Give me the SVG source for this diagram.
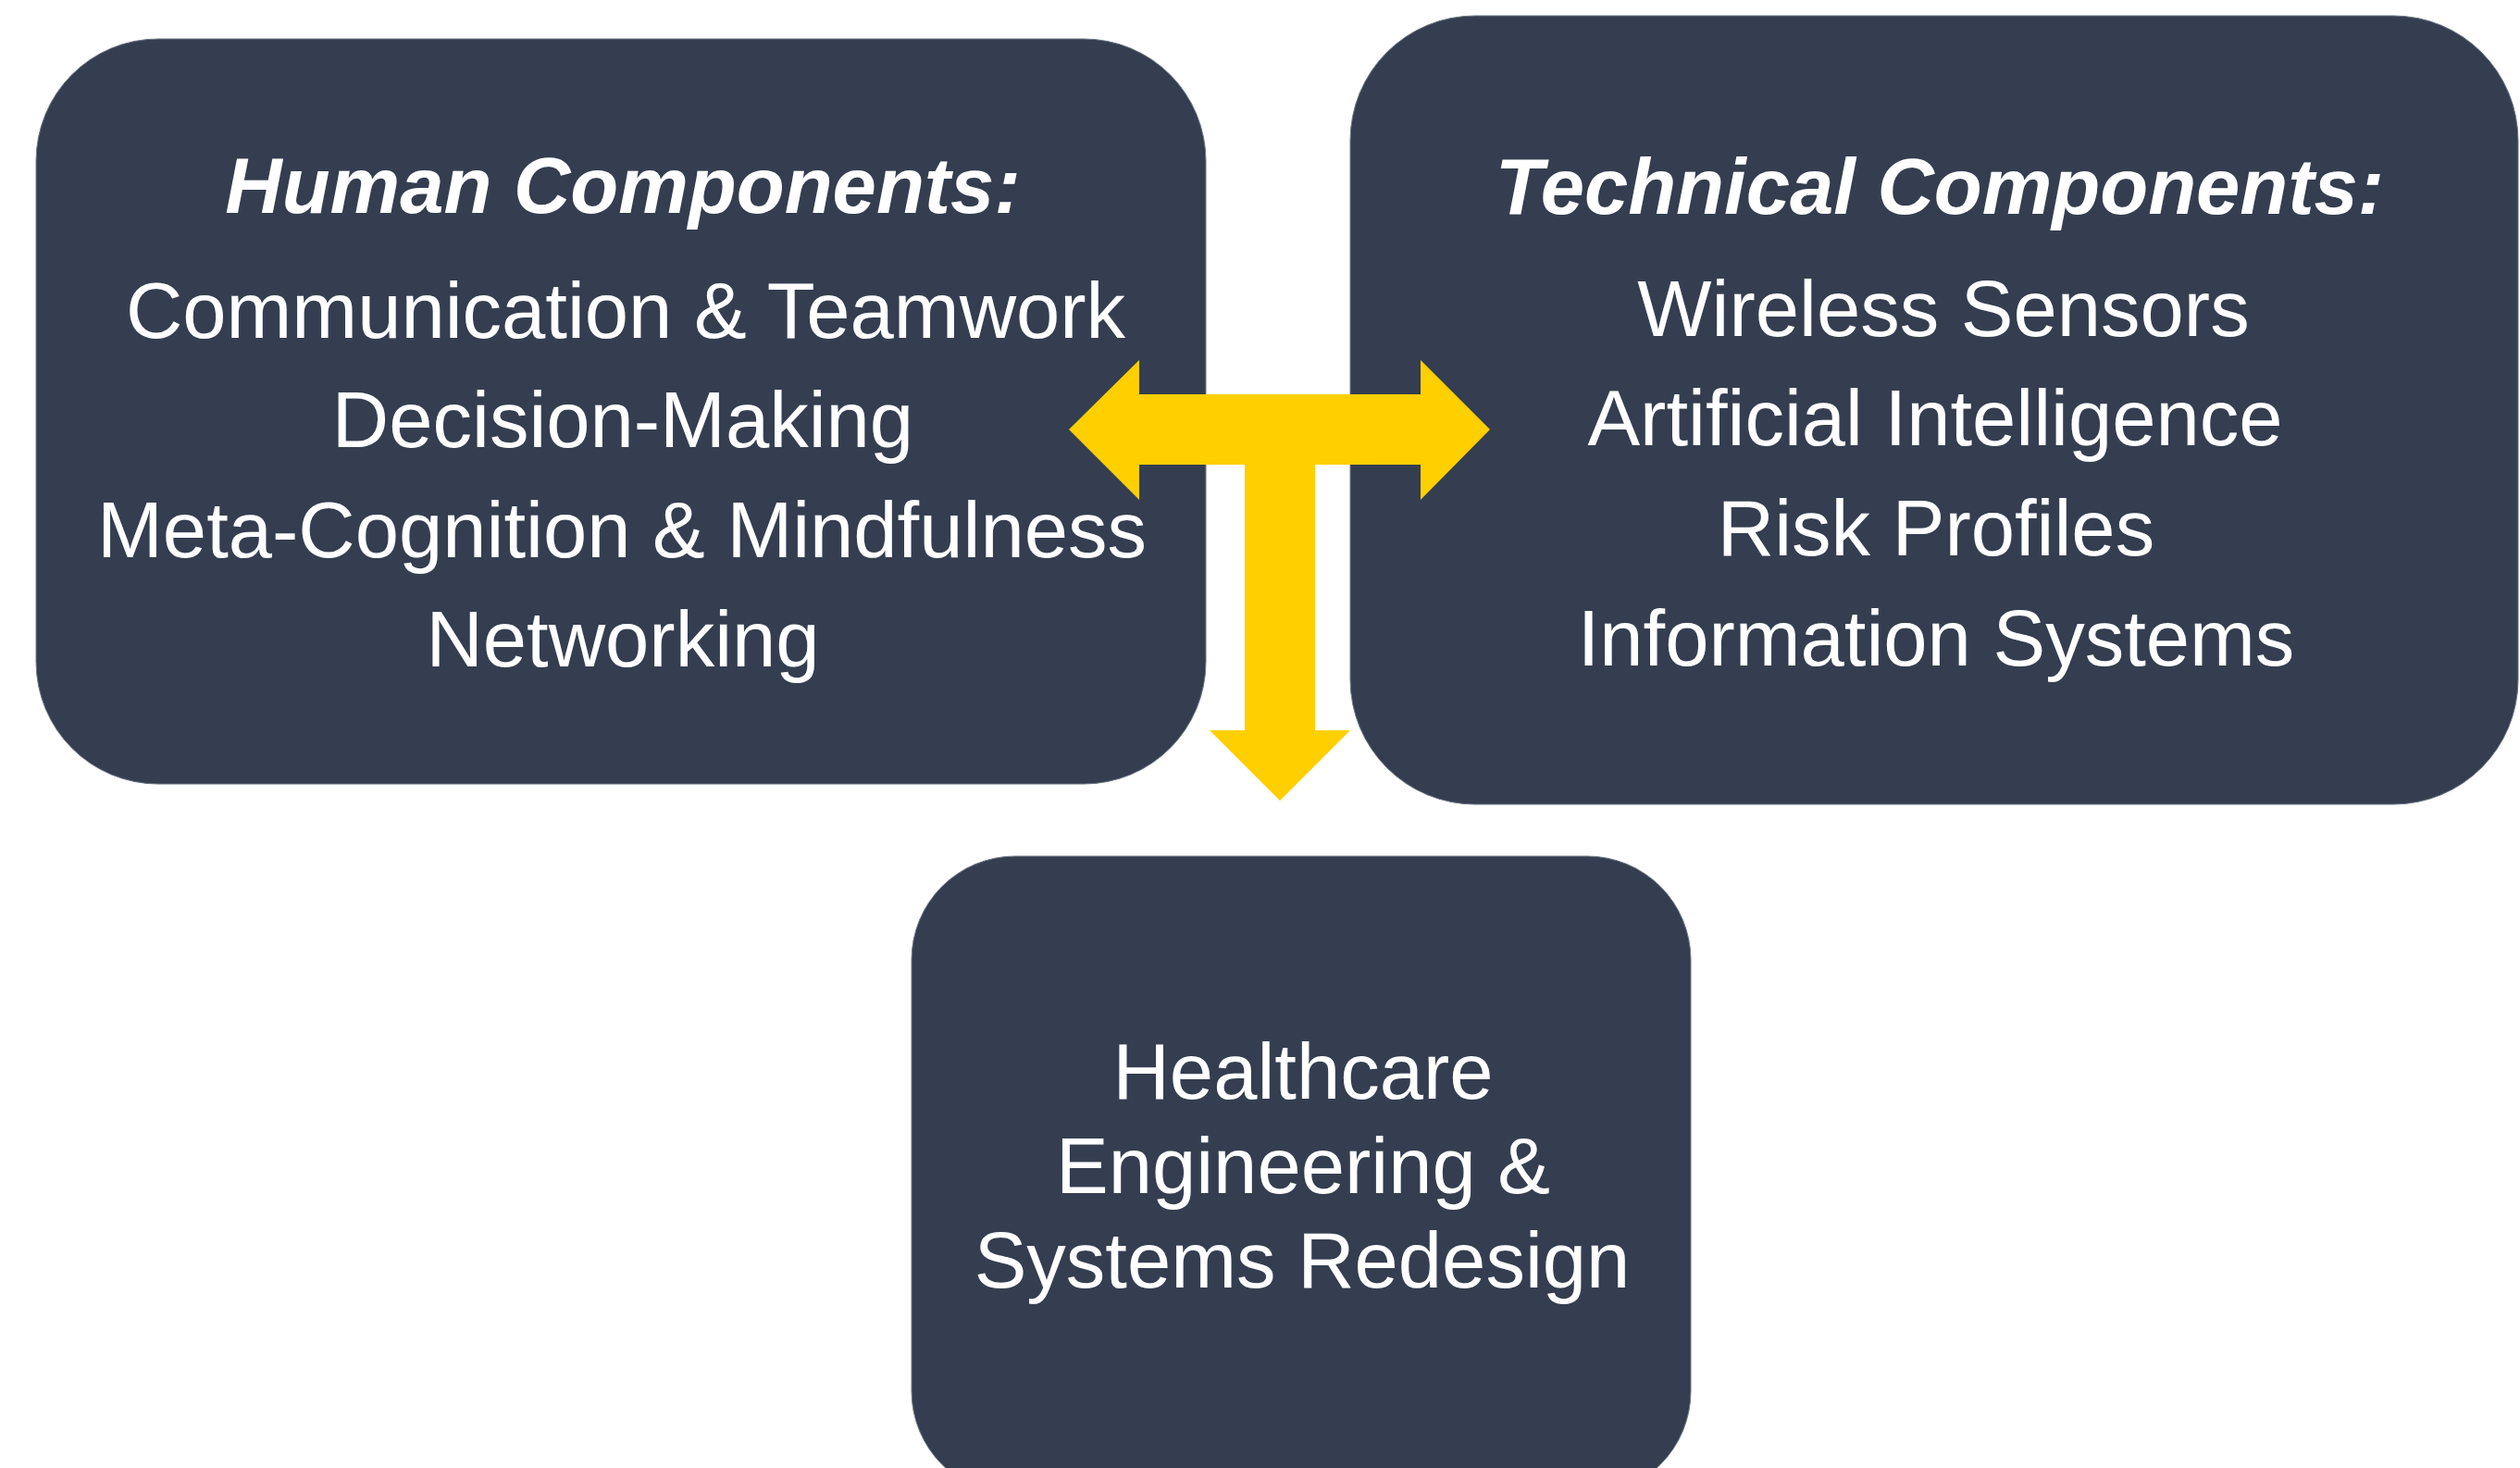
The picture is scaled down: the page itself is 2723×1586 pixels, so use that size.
<svg xmlns="http://www.w3.org/2000/svg" width="2723" height="1586" viewBox="0 0 2723 1586">
  <style>
    .box { fill: #343e50; stroke: #6f7886; stroke-width: 1; }
    .txt { font-family: "Liberation Sans", Arial, sans-serif; font-size: 85px; fill: #ffffff; text-anchor: middle; }
    .head { font-weight: bold; font-style: italic; }
    .arrow { fill: #ffcf00; }
  </style>
  <rect width="2723" height="1586" fill="#ffffff"/>

  <!-- Human side -->
  <g id="human">
    <rect class="box" x="39" y="42" width="1264" height="805" rx="132" ry="132"/>
    <text class="txt head" x="673" y="230">Human Components:</text>
    <text class="txt" x="676" y="365">Communication &amp; Teamwork</text>
    <text class="txt" x="673" y="483">Decision-Making</text>
    <text class="txt" x="672" y="602">Meta-Cognition &amp; Mindfulness</text>
    <text class="txt" x="673" y="720">Networking</text>
  </g>

  <!-- Technical side -->
  <g id="technical">
    <rect class="box" x="1459" y="17" width="1262" height="852" rx="135" ry="135"/>
    <text class="txt head" x="2096" y="231">Technical Components:</text>
    <text class="txt" x="2100" y="363">Wireless Sensors</text>
    <text class="txt" x="2091" y="481">Artificial Intelligence</text>
    <text class="txt" x="2092" y="600">Risk Profiles</text>
    <text class="txt" x="2092" y="719">Information Systems</text>
  </g>

  <!-- Combined outcome -->
  <g id="outcome">
    <rect class="box" x="985" y="925" width="842" height="690" rx="112" ry="112"/>
    <text class="txt" x="1408" y="1187">Healthcare</text>
    <text class="txt" x="1408" y="1289">Engineering &amp;</text>
    <text class="txt" x="1407" y="1391">Systems Redesign</text>
  </g>

  <!-- Connectors: T-shaped three-way arrow -->
  <g id="connectors">
    <polygon class="arrow" points="1155,464 1231,389 1231,426 1535,426 1535,389 1610,464 1535,540 1535,502 1421,502 1421,789 1459,789 1383,865 1307,789 1345,789 1345,502 1231,502 1231,540"/>
  </g>
</svg>
